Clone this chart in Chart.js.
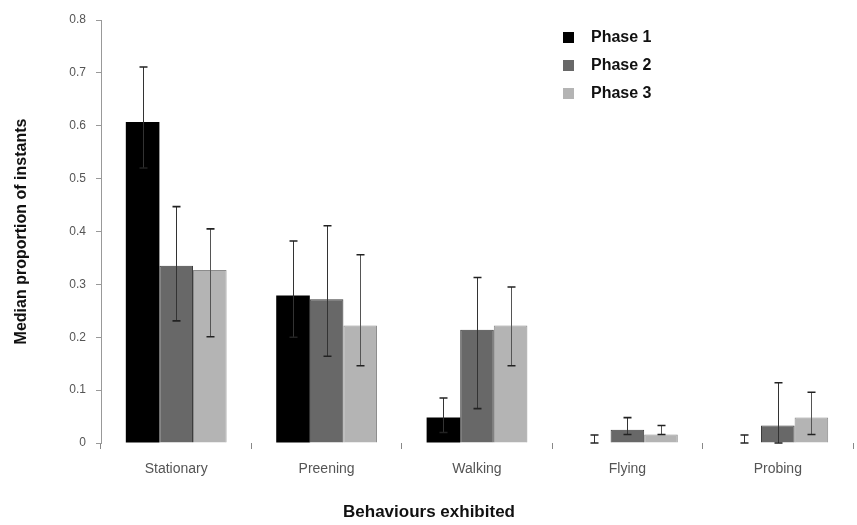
<!DOCTYPE html>
<html>
<head>
<meta charset="utf-8">
<script src="https://cdn.jsdelivr.net/npm/chart.js@4"></script>
<style>
  html, body { margin: 0; background: #fff; }
  #wrap { width: 857px; height: 525px; position: relative; }
</style>
</head>
<body>
<div id="wrap"><canvas id="chart"></canvas></div>
<script>
// -------- Data ----------
const behaviours = ["Stationary", "Preening", "Walking", "Flying", "Probing"];
const phaseNames = ["Phase 1", "Phase 2", "Phase 3"];

const phase1     = [0.607, 0.279, 0.048, 0,     0];
const phase1Low  = [0.52,  0.20,  0.02,  0,     0];
const phase1High = [0.711, 0.382, 0.085, 0.015, 0.015];

const phase2     = [0.335, 0.272, 0.214, 0.025, 0.033];
const phase2Low  = [0.231, 0.164, 0.065, 0.016, 0];
const phase2High = [0.447, 0.411, 0.313, 0.048, 0.114];

const phase3     = [0.327, 0.222, 0.222, 0.016, 0.048];
const phase3Low  = [0.201, 0.146, 0.146, 0.016, 0.016];
const phase3High = [0.405, 0.356, 0.295, 0.033, 0.096];

const yTickLabels = ["0", "0.1", "0.2", "0.3", "0.4", "0.5", "0.6", "0.7", "0.8"];

const FONT = '"Liberation Sans", Arial, sans-serif';

// -------- Plugins ----------
// error bars drawn at each bar's x, through the y scale
const errorBars = {
  id: "errorBars",
  afterDatasetsDraw(chart) {
    const ctx = chart.ctx;
    const y = chart.scales.y;
    chart.data.datasets.forEach((ds, i) => {
      const meta = chart.getDatasetMeta(i);
      meta.data.forEach((bar, j) => {
        const lo = y.getPixelForValue(ds.errLow[j]);
        const hi = y.getPixelForValue(ds.errHigh[j]);
        const x = Math.round(bar.x) + 0.5;
        ctx.save();
        ctx.strokeStyle = ds.errColor;
        ctx.lineWidth = 1;
        ctx.beginPath();
        ctx.moveTo(x, lo); ctx.lineTo(x, hi);
        ctx.stroke();
        ctx.strokeStyle = "#222";
        ctx.lineWidth = 1.6;
        ctx.beginPath();
        ctx.moveTo(x - 4, hi); ctx.lineTo(x + 4, hi);
        ctx.moveTo(x - 4, lo); ctx.lineTo(x + 4, lo);
        ctx.stroke();
        ctx.restore();
      });
    });
  }
};

// legend + axis titles
const decorations = {
  id: "decorations",
  afterDraw(chart) {
    const ctx = chart.ctx;
    ctx.save();
    // legend
    ctx.font = "bold 16px " + FONT;
    ctx.textBaseline = "middle";
    chart.data.datasets.forEach((ds, i) => {
      const cy = 38 + i * 28;
      ctx.fillStyle = ds.backgroundColor;
      ctx.fillRect(563, cy - 6, 11, 11);
      ctx.fillStyle = "#111";
      ctx.textAlign = "left";
      ctx.fillText(ds.label, 591, cy);
    });
    // x title
    ctx.font = "bold 17px " + FONT;
    ctx.textAlign = "center";
    ctx.fillText("Behaviours exhibited", 429, 512);
    // y title
    ctx.font = "bold 16px " + FONT;
    ctx.translate(22, (chart.chartArea.top + chart.chartArea.bottom) / 2);
    ctx.rotate(-Math.PI / 2);
    ctx.fillText("Median proportion of instants", 0, 0);
    ctx.restore();
  }
};

// -------- Chart ----------
const ctx = document.getElementById("chart").getContext("2d");
new Chart(ctx, {
  type: "bar",
  data: {
    labels: behaviours,
    datasets: [
      { label: phaseNames[0], data: phase1, errLow: phase1Low, errHigh: phase1High,
        backgroundColor: "#000000", borderColor: "#000000", borderWidth: 0, errColor: "#333" },
      { label: phaseNames[1], data: phase2, errLow: phase2Low, errHigh: phase2High,
        backgroundColor: "#686868", borderColor: "#3c3c3c", borderWidth: 1, errColor: "#333" },
      { label: phaseNames[2], data: phase3, errLow: phase3Low, errHigh: phase3High,
        backgroundColor: "#b4b4b4", borderColor: "#8c8c8c", borderWidth: 1, errColor: "#555" }
    ]
  },
  options: {
    responsive: true,
    maintainAspectRatio: false,
    animation: false,
    layout: { padding: { top: 20, right: 4, left: 0, bottom: 0 } },
    datasets: { bar: { categoryPercentage: 0.67, barPercentage: 1.0 } },
    plugins: { legend: { display: false }, tooltip: { enabled: false } },
    scales: {
      x: {
        grid: { display: true, drawOnChartArea: false, tickLength: 6, color: "#888" },
        border: { display: false },
        ticks: { color: "#555", font: { family: FONT, size: 14 }, padding: 12, maxRotation: 0 },
        afterFit(s) { s.height = 82; }
      },
      y: {
        min: 0, max: 0.8,
        grid: { display: true, drawOnChartArea: false, tickLength: 5, color: "#999" },
        border: { display: true, color: "#999" },
        ticks: { stepSize: 0.1, color: "#555", font: { family: FONT, size: 12 }, padding: 10,
                 callback: (v, i) => yTickLabels[i] },
        afterFit(s) { s.width = 101; }
      }
    }
  },
  plugins: [errorBars, decorations]
});
</script>
</body>
</html>
